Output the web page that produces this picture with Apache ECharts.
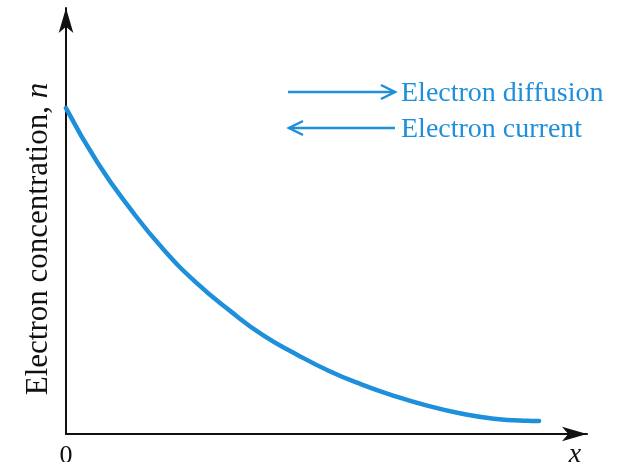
<!DOCTYPE html>
<html>
<head>
<meta charset="utf-8">
<script src="https://cdn.jsdelivr.net/npm/echarts@6/dist/echarts.min.js"></script>
<style>
html,body{margin:0;padding:0;background:#fff;}
#c{width:621px;height:462px;}
</style>
</head>
<body>
<div id="c"></div>
<script>
// position along x (0..100) and electron concentration n (0..100)
const xValues = [0, 6.1, 12.5, 18.8, 25.1, 31.5, 37.8, 44.1, 50.5, 56.8, 63.1, 69.5, 75.8, 82.1, 88.5, 90.8];
const nValues = [76.5, 63.6, 52.6, 43.2, 35.4, 28.9, 23.2, 18.8, 14.8, 11.6, 8.9, 6.6, 4.8, 3.6, 3.1, 3.05];
const xTickLabels = ['0'];
const yAxisTitle = 'Electron concentration, {i|n}';
const xAxisTitle = 'x';
const legendLabels = ['Electron diffusion', 'Electron current'];

const BLUE = '#1E8FDA';
const FONT = '"Liberation Serif", "Times New Roman", serif';

const chart = echarts.init(document.getElementById('c'), null, {renderer: 'canvas'});
const data = xValues.map((x, i) => [x, nValues[i]]);

chart.setOption({
  animation: false,
  backgroundColor: '#fff',
  grid: {left: 66, right: 34, top: 8, bottom: 28, containLabel: false, outerBoundsMode: 'none'},
  xAxis: {
    type: 'value', min: 0, max: 100, interval: 100,
    axisLine: {show: true, symbol: ['none', 'arrow'], symbolSize: [11, 25], lineStyle: {color: '#111', width: 2}},
    axisTick: {show: false},
    splitLine: {show: false},
    axisLabel: {
      show: true, margin: 9, color: '#111', fontFamily: FONT, fontSize: 26,
      formatter: v => (v === 0 ? xTickLabels[0] : '')
    },
    name: xAxisTitle, nameLocation: 'end', nameGap: -12,
    nameTextStyle: {fontFamily: FONT, fontStyle: 'italic', fontSize: 28, color: '#111', align: 'center', verticalAlign: 'top', padding: [7, 0, 0, 0]}
  },
  yAxis: {
    type: 'value', min: 0, max: 100,
    axisLine: {show: true, symbol: ['none', 'arrow'], symbolSize: [11, 25], lineStyle: {color: '#111', width: 2}},
    axisTick: {show: false},
    splitLine: {show: false},
    axisLabel: {show: false},
    name: yAxisTitle, nameLocation: 'middle', nameGap: 12, nameRotate: 90,
    nameTextStyle: {
      fontFamily: FONT, fontSize: 31, color: '#111', padding: [0, 36, 0, 0],
      rich: {i: {fontFamily: FONT, fontSize: 31, fontStyle: 'italic', color: '#111'}}
    }
  },
  series: [{
    type: 'line', data: data, smooth: 0.5, showSymbol: false, symbol: 'none',
    lineStyle: {color: BLUE, width: 4.5, cap: 'round'}
  }],
  graphic: [
    {type: 'polyline', shape: {points: [[288, 92], [394, 92]]}, style: {stroke: BLUE, lineWidth: 2.5, fill: null}},
    {type: 'polyline', shape: {points: [[381, 85], [395, 92], [381, 99]]}, style: {stroke: BLUE, lineWidth: 2.5, fill: null}},
    {type: 'polyline', shape: {points: [[289, 128], [395, 128]]}, style: {stroke: BLUE, lineWidth: 2.5, fill: null}},
    {type: 'polyline', shape: {points: [[303, 121], [289, 128], [303, 135]]}, style: {stroke: BLUE, lineWidth: 2.5, fill: null}},
    {type: 'text', x: 401, y: 94, style: {text: legendLabels[0], fill: BLUE, font: '28px ' + FONT, verticalAlign: 'middle'}},
    {type: 'text', x: 401, y: 130, style: {text: legendLabels[1], fill: BLUE, font: '28px ' + FONT, verticalAlign: 'middle'}}
  ]
});
</script>
</body>
</html>
